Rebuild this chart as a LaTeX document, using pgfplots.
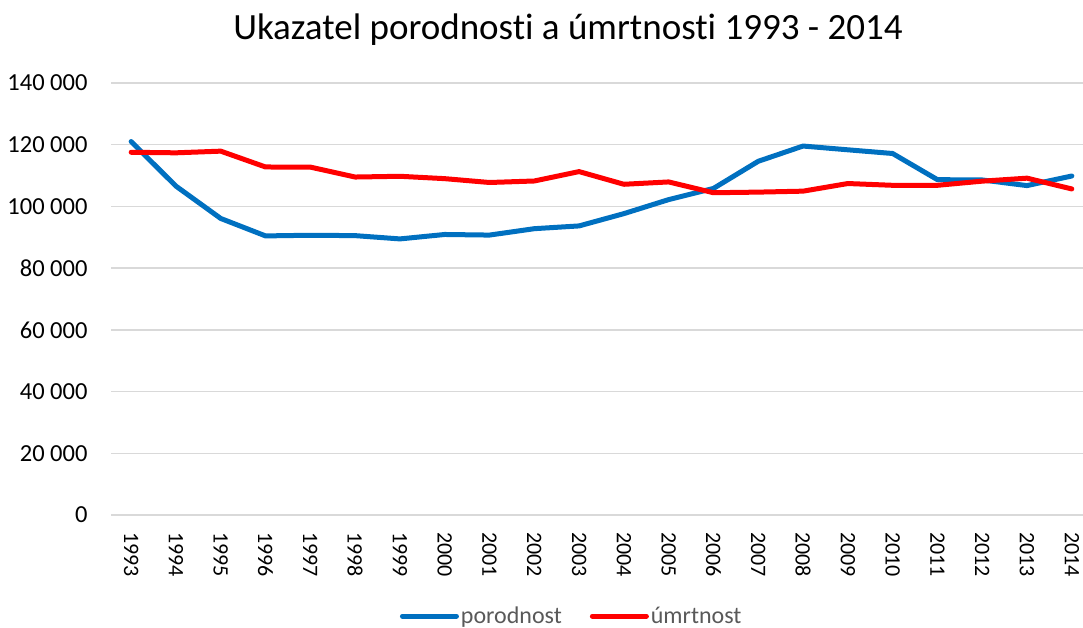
\documentclass[border=0pt]{standalone}
\usepackage{pgfplots}
\pgfplotsset{compat=1.18}
\usepackage{fontspec}
\setmainfont{Carlito}[Ligatures=NoCommon]
\definecolor{cblue}{HTML}{0070C0}
\definecolor{cred}{HTML}{FF0000}
\definecolor{cgrid}{HTML}{D9D9D9}
\definecolor{clegend}{HTML}{595959}
\begin{document}
\begin{tikzpicture}[x=1pt,y=1pt]
\useasboundingbox (0,0) rectangle (1083,627);
\clip (0,0) rectangle (1083,627);
\node[font=\fontsize{37}{42}\selectfont, anchor=center] at (568,597) {Ukazatel porodnosti a úmrtnosti 1993 - 2014};
\begin{axis}[
  at={(111pt,112pt)}, anchor=south west,
  scale only axis, width=972pt, height=432pt,
  xmin=-0.45, xmax=21.25, ymin=0, ymax=140000,
  xtick={0,...,21},
  xticklabels={1993,1994,1995,1996,1997,1998,1999,2000,2001,2002,2003,2004,2005,2006,2007,2008,2009,2010,2011,2012,2013,2014},
  ytick={0,20000,40000,60000,80000,100000,120000,140000},
  yticklabels={0,20 000,40 000,60 000,80 000,100 000,120 000,140 000},
  scaled y ticks=false,
  tick label style={black},
  xticklabel style={font=\fontsize{22}{26}\selectfont, rotate=-90, anchor=west, inner xsep=17pt},
  yticklabel style={font=\fontsize{24.5}{28}\selectfont, xshift=-20pt},
  major tick length=0pt,
  axis line style={draw=none},
  ymajorgrids, grid style={cgrid, line width=1.5pt},
  clip=false,
  legend columns=2,
  legend style={draw=none, fill=none, at={(0.474,-0.234)}, anchor=center,
    font=\fontsize{24}{28}\selectfont, text=clegend,
    /tikz/every even column/.append style={column sep=26pt}},
  legend image code/.code={\draw[#1, line width=5pt, line cap=round] (0pt,0pt) -- (54pt,0pt);},
]
\addplot[cblue, line width=5pt, line join=round, line cap=round] coordinates {
(0,121025) (1,106579) (2,96097) (3,90446) (4,90657) (5,90535) (6,89471) (7,90910) (8,90715) (9,92786) (10,93685) (11,97664) (12,102211) (13,105831) (14,114632) (15,119570) (16,118348) (17,117153) (18,108673) (19,108576) (20,106751) (21,109860)};
\addlegendentry{porodnost}
\addplot[cred, line width=5pt, line join=round, line cap=round] coordinates {
(0,117550) (1,117373) (2,117913) (3,112782) (4,112744) (5,109527) (6,109768) (7,109001) (8,107755) (9,108243) (10,111288) (11,107177) (12,107938) (13,104441) (14,104636) (15,104948) (16,107421) (17,106844) (18,106848) (19,108189) (20,109160) (21,105665)};
\addlegendentry{úmrtnost}
\end{axis}
\end{tikzpicture}
\end{document}
